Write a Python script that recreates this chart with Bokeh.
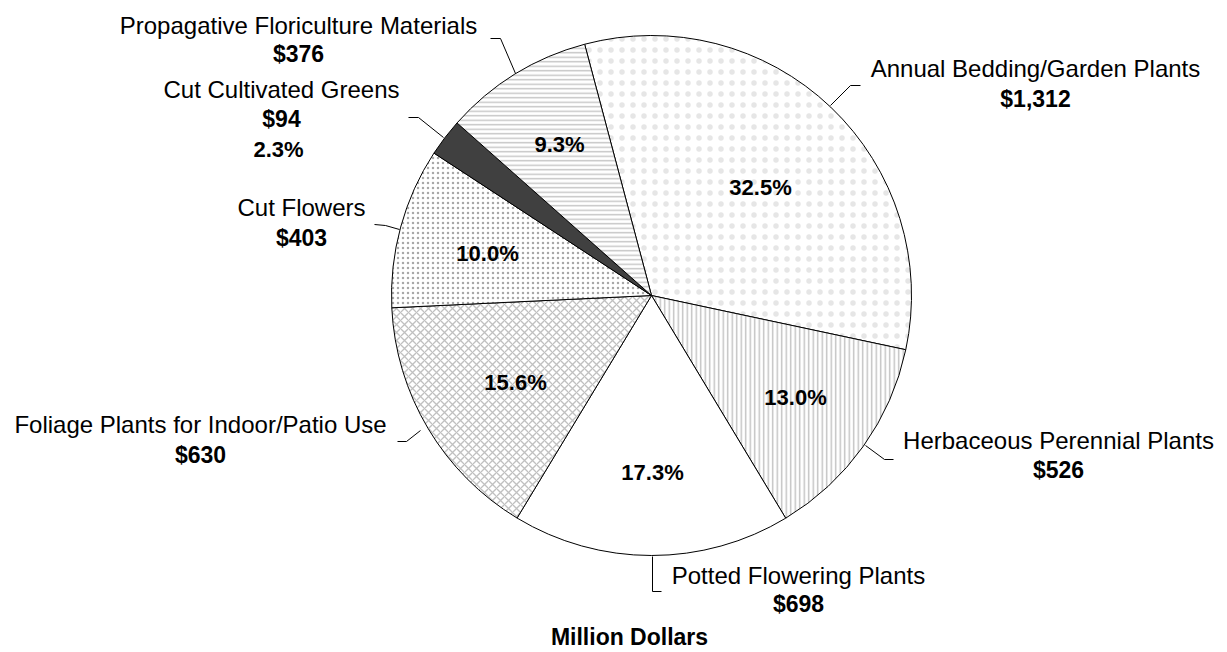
import math
from bokeh.plotting import figure
from bokeh.models import Range1d, ColumnDataSource
from bokeh.core.properties import value
from bokeh.embed import file_html
from bokeh.resources import INLINE

# ---- data ----
categories = ["Annual Bedding/Garden Plants", "Herbaceous Perennial Plants",
              "Potted Flowering Plants", "Foliage Plants for Indoor/Patio Use",
              "Cut Flowers", "Cut Cultivated Greens", "Propagative Floriculture Materials"]
values = [1312, 526, 698, 630, 403, 94, 376]
value_labels = ["$1,312", "$526", "$698", "$630", "$403", "$94", "$376"]
pct_labels = ["32.5%", "13.0%", "17.3%", "15.6%", "10.0%", "2.3%", "9.3%"]
axis_title = "Million Dollars"

# ---- styles ----
fills = ["white", "white", "white", "white", "white", "#404040", "white"]
hatches = ["dot", "vertical_line", " ", "diagonal_cross", "dot", " ", "horizontal_line"]
hatch_scales = [11, 4.5, 10, 8, 5, 10, 4.5]
hatch_colors = ["#e6e6e6", "#c0c0c0", "#c4c4c4", "#c0c0c0", "#a8a8a8", "#c4c4c4", "#c4c4c4"]
hatch_weights = [1, 1.4, 1, 1.3, 1, 1, 1.4]

W, H = 1219, 650
def X(px): return px
def Y(py): return H - py
def TY(py, size): return H - (py - 0.35 * size)   # baseline correction for text

cx, cy, R = 651, 295, 260
start_offset = -14.9  # degrees clockwise from 12 o'clock

total = sum(values)
cw = [start_offset]
for v in values:
    cw.append(cw[-1] + v / total * 360.0)
starts = [math.radians(90 - cw[i + 1]) for i in range(len(values))]
ends = [math.radians(90 - cw[i]) for i in range(len(values))]

p = figure(width=W, height=H, output_backend="svg", toolbar_location=None,
           x_range=Range1d(0, W), y_range=Range1d(0, H), min_border=0)
p.axis.visible = False
p.grid.visible = False
p.outline_line_color = None
p.background_fill_color = "white"

src = ColumnDataSource(dict(start=starts, end=ends, fill=fills, hatch=hatches,
                            hs=hatch_scales, hc=hatch_colors, hw=hatch_weights))
p.wedge(x=X(cx), y=Y(cy), radius=R, start_angle="start", end_angle="end",
        fill_color="fill", hatch_pattern="hatch", hatch_scale="hs",
        hatch_color="hc", hatch_weight="hw", line_color="black", line_width=1,
        source=src)

# leader lines (reference pixel coords)
leaders = [
    [(830, 105), (850, 85), (860, 85)],
    [(865, 445), (884, 459), (893, 459)],
    [(652, 556), (652, 591), (661, 591)],
    [(420, 430), (406, 441), (397, 441)],
    [(399, 229), (385, 225), (374, 224)],
    [(443, 137), (418, 117), (408, 117)],
    [(515, 73), (500, 38), (490, 38)],
]
p.multi_line(xs=[[X(a) for a, b in L] for L in leaders],
             ys=[[Y(b) for a, b in L] for L in leaders],
             line_color="black", line_width=1)

# outside labels: (center x, name baseline, value baseline)
out_pos = [(1035, 76, 107), (1058, 448, 478), (798, 583, 612), (200, 432, 463),
           (301, 215, 246), (281, 97, 127), (298, 33, 62)]
font = value("Liberation Sans")
p.text(x=[X(a) for a, b, c in out_pos], y=[TY(b, 24) for a, b, c in out_pos], text=categories,
       text_font=font, text_font_size="24px", text_align="center",
       text_baseline="alphabetic", text_color="black")
p.text(x=[X(a) for a, b, c in out_pos], y=[TY(c, 23) for a, b, c in out_pos], text=value_labels,
       text_font=font, text_font_size="23px", text_font_style="bold", text_align="center",
       text_baseline="alphabetic", text_color="black")

# percent labels
pct_pos = [(760, 195), (795, 405), (652, 480), (515, 390), (487, 261), (278, 157), (559, 152)]
p.text(x=[X(a) for a, b in pct_pos], y=[TY(b, 22) for a, b in pct_pos], text=pct_labels,
       text_font=font, text_font_size="22px", text_font_style="bold", text_align="center",
       text_baseline="alphabetic", text_color="black")

p.text(x=[X(629)], y=[TY(645, 23)], text=[axis_title], text_font=font, text_font_size="23px",
       text_font_style="bold", text_align="center", text_baseline="alphabetic",
       text_color="black")

open("out.html", "w").write(file_html(p, INLINE))
